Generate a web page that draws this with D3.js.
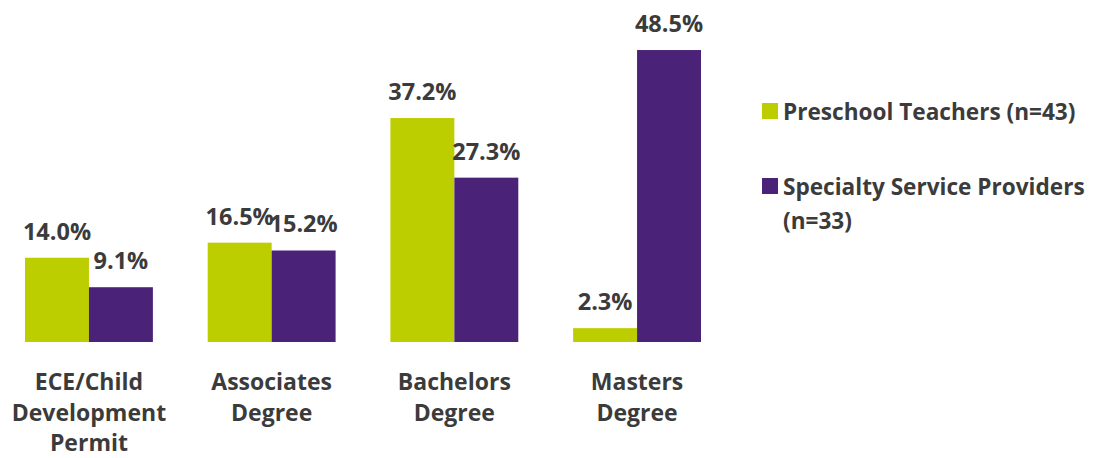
<!DOCTYPE html>
<html><head><meta charset="utf-8">
<script src="https://cdn.jsdelivr.net/npm/d3@7"></script>
<style>body{margin:0;background:#fff}svg{display:block}</style>
</head><body>
<script>
const categories = [["ECE/Child","Development","Permit"],["Associates","Degree"],["Bachelors","Degree"],["Masters","Degree"]];
const seriesNames = ["Preschool Teachers (n=43)", "Specialty Service Providers (n=33)"];
const legendLines = [["Preschool Teachers (n=43)"],["Specialty Service Providers","(n=33)"]];
const preschool = [14.0, 16.5, 37.2, 2.3];
const specialty = [9.1, 15.2, 27.3, 48.5];
const colors = ["#BCCD00", "#4A2378"];

const W = 1096, H = 458;
const svg = d3.select("body").append("svg").attr("width", W).attr("height", H);
const x = d3.scaleBand().domain(d3.range(categories.length)).range([25, 701]).paddingInner(0.3).paddingOuter(0);
const x1 = d3.scaleBand().domain([0,1]).range([0, x.bandwidth()]);
const y = d3.scaleLinear().domain([0, 50]).range([342, 41]);
const series = [preschool, specialty];
const textCol = "#3b3b3b";
const font = "'Open Sans', Lato, sans-serif";
const weight = "bold";

series.forEach((vals, si) => {
  const g = svg.append("g");
  g.selectAll("rect").data(vals).join("rect")
    .attr("x", (d,i) => x(i) + x1(si))
    .attr("width", x1.bandwidth())
    .attr("y", d => y(d))
    .attr("height", d => y(0) - y(d))
    .attr("fill", colors[si]);
  g.selectAll("text").data(vals).join("text")
    .attr("x", (d,i) => x(i) + x1(si) + x1.bandwidth()/2)
    .attr("y", d => y(d) - 18)
    .attr("text-anchor", "middle")
    .attr("font-family", font).attr("font-weight", weight).attr("font-size", 23.5)
    .attr("fill", textCol)
    .text(d => d.toFixed(1) + "%");
});

// category labels
categories.forEach((lines, i) => {
  const t = svg.append("text")
    .attr("text-anchor", "middle")
    .attr("font-family", font)
    .attr("font-weight", weight).attr("font-size", 23)
    .attr("fill", textCol);
  lines.forEach((l, j) => {
    t.append("tspan").attr("x", x(i) + x.bandwidth()/2).attr("y", 390 + j*30.5).text(l);
  });
});

// legend
legendLines.forEach((lines, si) => {
  const ly = 103 + si * 75;
  svg.append("rect").attr("x", 762).attr("y", ly).attr("width", 16).attr("height", 16).attr("fill", colors[si]);
  const t = svg.append("text").attr("font-family", font).attr("font-weight", weight).attr("font-size", 22.6).attr("fill", textCol);
  lines.forEach((l, j) => {
    t.append("tspan").attr("x", 783).attr("y", ly + 17 + j*34).text(l);
  });
});
</script>
</body></html>
